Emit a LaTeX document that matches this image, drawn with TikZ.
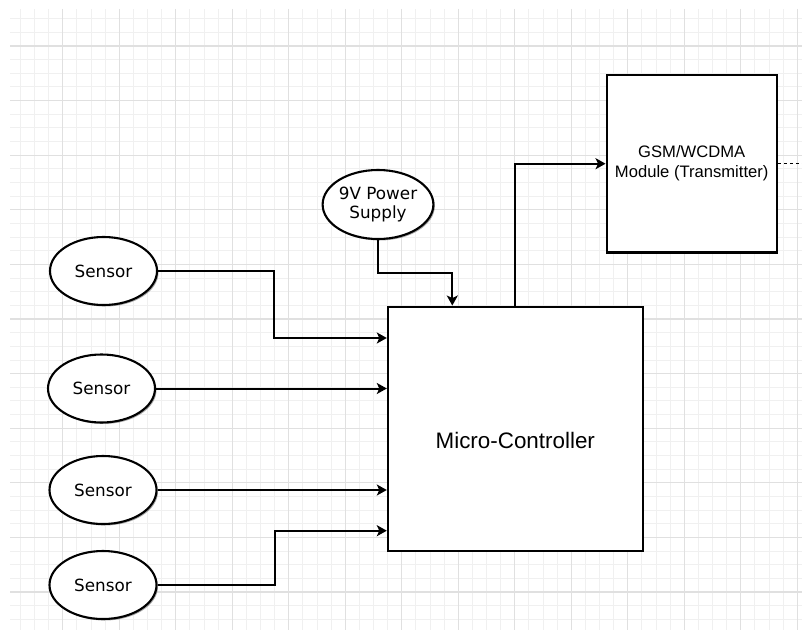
\documentclass[tikz,border=0pt]{standalone}
\usepackage{fontspec}
\setmainfont{Liberation Sans}
\newfontfamily\sensorfont{DejaVu Sans}
\usetikzlibrary{arrows.meta}
\usetikzlibrary{shapes.geometric,shadows,calc}

\definecolor{gridmajor}{HTML}{E0E0E0}
\definecolor{gridminor}{HTML}{F0F0F0}

\tikzset{
  minorgrid/.style={gridminor, line width=0.9pt},
  majorgrid/.style={gridmajor, line width=1.1pt},
  shade/.style={drop shadow={shadow xshift=1.5pt, shadow yshift=-1.5pt, opacity=0.35, fill=black}},
  sensor/.style={ellipse, draw, line width=2.1pt, fill=white, shade, minimum width=107pt, minimum height=68pt, inner sep=0pt, font=\sensorfont\fontsize{16.8}{19}\selectfont, align=center},
  block/.style={rectangle, draw, line width=2.3pt, fill=white, shade, inner sep=0pt, align=center},
  conn/.style={line width=2pt, -{Stealth[length=10pt, width=11pt, inset=2.5pt]}},
}

\begin{document}
\begin{tikzpicture}[x=1pt, y=-1pt]
\useasboundingbox (0,0) rectangle (802,631);
%\draw grid
\foreach \i in {-3,...,52} \draw[minorgrid] (62.7+14.125*\i,9) -- (62.7+14.125*\i,630);
\foreach \j in {-2,...,42} \draw[minorgrid] (10,46+13.65*\j) -- (802,46+13.65*\j);
\foreach \i in {0,...,13} \draw[majorgrid] (62.7+56.5*\i,9) -- (62.7+56.5*\i,630);
\foreach \j in {0,...,10} \draw[majorgrid] (10,46+54.6*\j) -- (802,46+54.6*\j);

\node[sensor] (s1) at (103.5,271) {Sensor};
\node[sensor] (s2) at (101.5,388.5) {Sensor};
\node[sensor] (s3) at (103,490) {Sensor};
\node[sensor] (s4) at (103,585) {Sensor};
\node[sensor, minimum width=108pt, minimum height=69pt] (pwr) at (378,204.5) {9V Power\\Supply};

\node[block, minimum width=254.7pt, minimum height=244pt,
  label={[yshift=-12pt, font=\fontsize{22.4}{26}\selectfont]center:Micro-Controller}] (mc) at (515.3,428.7) {};
\node[block, minimum width=170pt, minimum height=177.3pt, font=\fontsize{16.6}{20}\selectfont] (gsm) at (691.7,163.7) {GSM/WCDMA\\Module (Transmitter)};

\coordinate (in1) at ([yshift=90.7pt]mc.west);
\coordinate (in4) at ([yshift=-102pt]mc.west);
\coordinate (pin) at ([xshift=-63pt]mc.north);
\coordinate (edge) at (802,163.7);

\draw[conn] (s1.east) -- ++(116,0) |- (in1);
\draw[conn] (s2.east) -- (s2.east -| mc.west);
\draw[conn] (s3.east) -- (s3.east -| mc.west);
\draw[conn] (s4.east) -- ++(117,0) |- (in4);
\draw[conn] (pwr.south) -- ++(0,33) -| (pin);
\draw[conn] (mc.north) |- (gsm.west);
\draw[line width=1.6pt, dash pattern=on 3pt off 3pt] (gsm.east) -- (edge);
\end{tikzpicture}
\end{document}
